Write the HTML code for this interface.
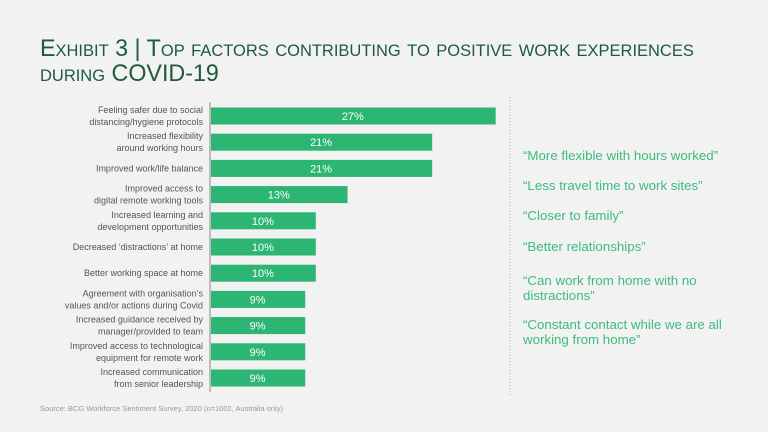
<!DOCTYPE html>
<html><head><meta charset="utf-8"><style>
html,body{margin:0;padding:0;background:#f2f2f2;}
#wrap{position:relative;width:768px;height:432px;background:#f2f2f2;overflow:hidden;font-family:"Liberation Sans",sans-serif;}
.title{position:absolute;left:40px;top:36px;color:#1e5a3c;font-size:24px;line-height:25px;font-variant:small-caps;transform:scaleX(0.97);transform-origin:left top;white-space:nowrap;}
.quote{position:absolute;left:523px;color:#3dbb7f;font-size:13.3px;line-height:15px;}
.src{position:absolute;left:40px;top:404px;color:#999;font-size:7.5px;}
</style></head><body>
<div id="wrap">
<div class="title">Exhibit 3 | Top factors contributing to positive work experiences<br>during COVID-19</div>
<svg id="chart" width="768" height="432" style="position:absolute;left:0;top:0"></svg>
<div class="quote" style="top:148px">“More flexible with hours worked”</div>
<div class="quote" style="top:178px">“Less travel time to work sites”</div>
<div class="quote" style="top:208px">“Closer to family”</div>
<div class="quote" style="top:239px">“Better relationships”</div>
<div class="quote" style="top:273px">“Can work from home with no<br>distractions”</div>
<div class="quote" style="top:317px">“Constant contact while we are all<br>working from home”</div>
<div class="src">Source: BCG Workforce Sentiment Survey, 2020 (n=1002, Australia only)</div>
</div>
<script>
const categories = [
 ["Feeling safer due to social","distancing/hygiene protocols"],
 ["Increased flexibility","around working hours"],
 ["Improved work/life balance"],
 ["Improved access to","digital remote working tools"],
 ["Increased learning and","development opportunities"],
 ["Decreased ‘distractions’ at home"],
 ["Better working space at home"],
 ["Agreement with organisation’s","values and/or actions during Covid"],
 ["Increased guidance received by","manager/provided to team"],
 ["Improved access to technological","equipment for remote work"],
 ["Increased communication","from senior leadership"]
];
const values = [27,21,21,13,10,10,10,9,9,9,9];
const valueLabels = ["27%","21%","21%","13%","10%","10%","10%","9%","9%","9%","9%"];

const svg = document.getElementById('chart');
const NS = 'http://www.w3.org/2000/svg';
const x0 = 210, pxPer = 10.58;
const y0 = 116, step = 26.2, bh = 17;
function xScale(v){ return x0 + v*pxPer; }
function yScale(i){ return y0 + i*step; }

const axis = document.createElementNS(NS,'line');
axis.setAttribute('x1',x0);axis.setAttribute('x2',x0);axis.setAttribute('y1',102);axis.setAttribute('y2',392);
axis.setAttribute('stroke','#888');axis.setAttribute('stroke-width','1');


svg.appendChild(axis);

const div = document.createElementNS(NS,'line');
div.setAttribute('x1',510);div.setAttribute('x2',510);div.setAttribute('y1',97);div.setAttribute('y2',396);
div.setAttribute('stroke','#aaa');div.setAttribute('stroke-width','1');div.setAttribute('stroke-dasharray','1,2');


svg.appendChild(div);

values.forEach((v,i)=>{
  const cy = yScale(i);
  const r = document.createElementNS(NS,'rect');
  r.setAttribute('x',x0+1);r.setAttribute('y',cy-bh/2);
  r.setAttribute('width',xScale(v)-x0-1);r.setAttribute('height',bh);
  r.setAttribute('fill','#2db574');
  
  
  svg.appendChild(r);
  const t = document.createElementNS(NS,'text');
  t.setAttribute('x',(x0+xScale(v))/2);t.setAttribute('y',cy+4);
  t.setAttribute('text-anchor','middle');t.setAttribute('fill','#fff');
  t.setAttribute('font-size','11');t.setAttribute('font-family','Liberation Sans, sans-serif');
  t.textContent = valueLabels[i];
  
  
  svg.appendChild(t);
  const lines = categories[i];
  const lab = document.createElementNS(NS,'text');
  lab.setAttribute('text-anchor','end');lab.setAttribute('fill','#555');
  lab.setAttribute('font-size','9');lab.setAttribute('font-family','Liberation Sans, sans-serif');
  
  
  lines.forEach((ln,k)=>{
    const ts = document.createElementNS(NS,'tspan');
    ts.setAttribute('x',203);
    const off = lines.length===1 ? 3 : (k===0 ? -3 : 9);
    ts.setAttribute('y',cy+off);
    ts.textContent = ln;
    lab.appendChild(ts);
  });
  svg.appendChild(lab);
});
</script>
</body></html>
